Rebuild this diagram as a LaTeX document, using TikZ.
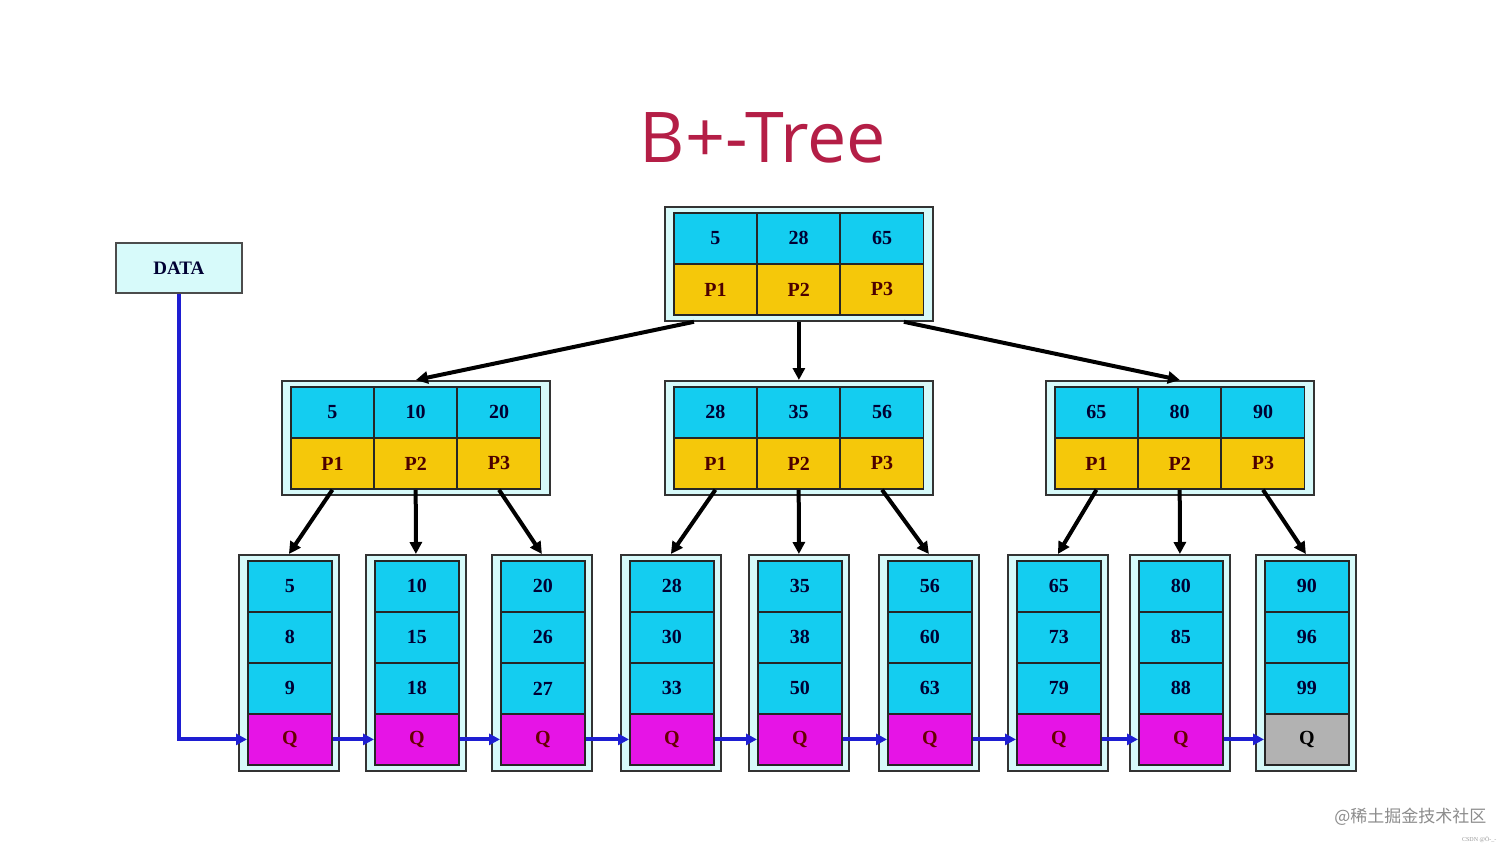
\documentclass[tikz,border=0pt]{standalone}
\usepackage{fontspec}
\setmainfont{Liberation Serif}
\newfontfamily\titlefont{Open Sans}
\newfontfamily\cjk{Noto Sans CJK SC}
\usetikzlibrary{arrows.meta}
\definecolor{keyc}{RGB}{20,205,240}
\definecolor{ptrc}{RGB}{245,200,10}
\definecolor{qc}{RGB}{230,20,230}
\definecolor{outc}{RGB}{215,250,250}
\definecolor{titc}{RGB}{180,30,70}
\definecolor{linkc}{RGB}{30,30,210}
\tikzset{
 outer/.style={draw=black!80,fill=outc,line width=1.8pt,inner sep=0pt},
 cell/.style={draw=black!85,line width=1.8pt,minimum width=83pt,minimum height=51pt,inner sep=0pt,font=\bfseries\fontsize{20}{20}\selectfont,text=black!80!blue},
 key/.style={cell,fill=keyc},
 ptr/.style={cell,fill=ptrc,text=black!70!red},
 q/.style={cell,fill=qc,minimum width=84pt,text=black!60!red},
 qg/.style={cell,fill=black!30,minimum width=84pt,text=black},
 tarr/.style={-{Triangle[length=12pt,width=12pt]},line width=4pt,black},
 larr/.style={-{Triangle[length=11pt,width=11pt]},line width=4pt,linkc},
}
\newcommand{\inode}[6]{%
 \node[outer,minimum width=268pt,minimum height=114pt,anchor=north west] (#1) at (#2,#3) {};
 \foreach \i/\k in {0/#4,1/#5,2/#6}{
  \node[key,anchor=north west] (#1k\i) at (#2+9+\i*83.3,#3+6) {\k};
  \node[ptr,anchor=north west] (#1p\i) at (#2+9+\i*83.3,#3+57) {P\the\numexpr\i+1\relax};
 }}
\newcommand{\lnode}[6]{%
 \node[outer,minimum width=100pt,minimum height=216pt,anchor=north west] (#1) at (#2,554) {};
 \node[key,minimum width=84pt,anchor=north west] (#1a) at (#2+9,560) {#3};
 \node[key,minimum width=84pt,anchor=north west] (#1b) at (#2+9,611) {#4};
 \node[key,minimum width=84pt,anchor=north west] (#1c) at (#2+9,662) {#5};
 \node[#6,anchor=north west] (#1q) at (#2+9,713) {Q};}
\begin{document}
\begin{tikzpicture}[x=1pt,y=-1pt]
\useasboundingbox[fill=white] (0,0) rectangle (1512,851);
\node[text=titc,font=\titlefont\fontsize{70}{70}\selectfont] (title) at (763,138) {B+-Tree};
\inode{root}{664}{206}{5}{28}{65}
\inode{A}{281}{380}{5}{10}{20}
\inode{B}{664}{380}{28}{35}{56}
\inode{C}{1045}{380}{65}{80}{90}
\lnode{L1}{238}{5}{8}{9}{q}
\lnode{L2}{365}{10}{15}{18}{q}
\lnode{L3}{491}{20}{26}{27}{q}
\lnode{L4}{620}{28}{30}{33}{q}
\lnode{L5}{748}{35}{38}{50}{q}
\lnode{L6}{878}{56}{60}{63}{q}
\lnode{L7}{1007}{65}{73}{79}{q}
\lnode{L8}{1129}{80}{85}{88}{q}
\lnode{L9}{1255}{90}{96}{99}{qg}
\node[outer,draw=black!70,minimum width=126pt,minimum height=50pt,anchor=north west,font=\bfseries\fontsize{19}{19}\selectfont,text=black!80!blue] (data) at (115,242) {DATA};
\draw[tarr] ([xshift=-105pt]root.south) -- (A.north);
\draw[tarr] (root.south) -- (B.north);
\draw[tarr] ([xshift=105pt]root.south) -- (C.north);
\foreach \n/\a/\b/\c in {A/L1/L2/L3,B/L4/L5/L6,C/L7/L8/L9}{
 \draw[tarr] (\n p0.south) -- (\a.north);
 \draw[tarr] (\n p1.south) -- (\b.north);
 \draw[tarr] (\n p2.south) -- (\c.north);
}
\draw[larr] (data.south) |- (L1q.west);
\foreach \a/\b in {L1/L2,L2/L3,L3/L4,L4/L5,L5/L6,L6/L7,L7/L8,L8/L9}{
 \draw[larr] (\a q.east) -- (\b q.west);
}
\node[text=black!45,font=\cjk\fontsize{17}{17}\selectfont,anchor=east] (wm) at (1490,817) {@稀土掘金技术社区};
\node[text=black!40,font=\fontsize{6}{6}\selectfont,anchor=east] (wm2) at (1500,840) {CSDN @Ö-\_-};
\end{tikzpicture}
\end{document}
